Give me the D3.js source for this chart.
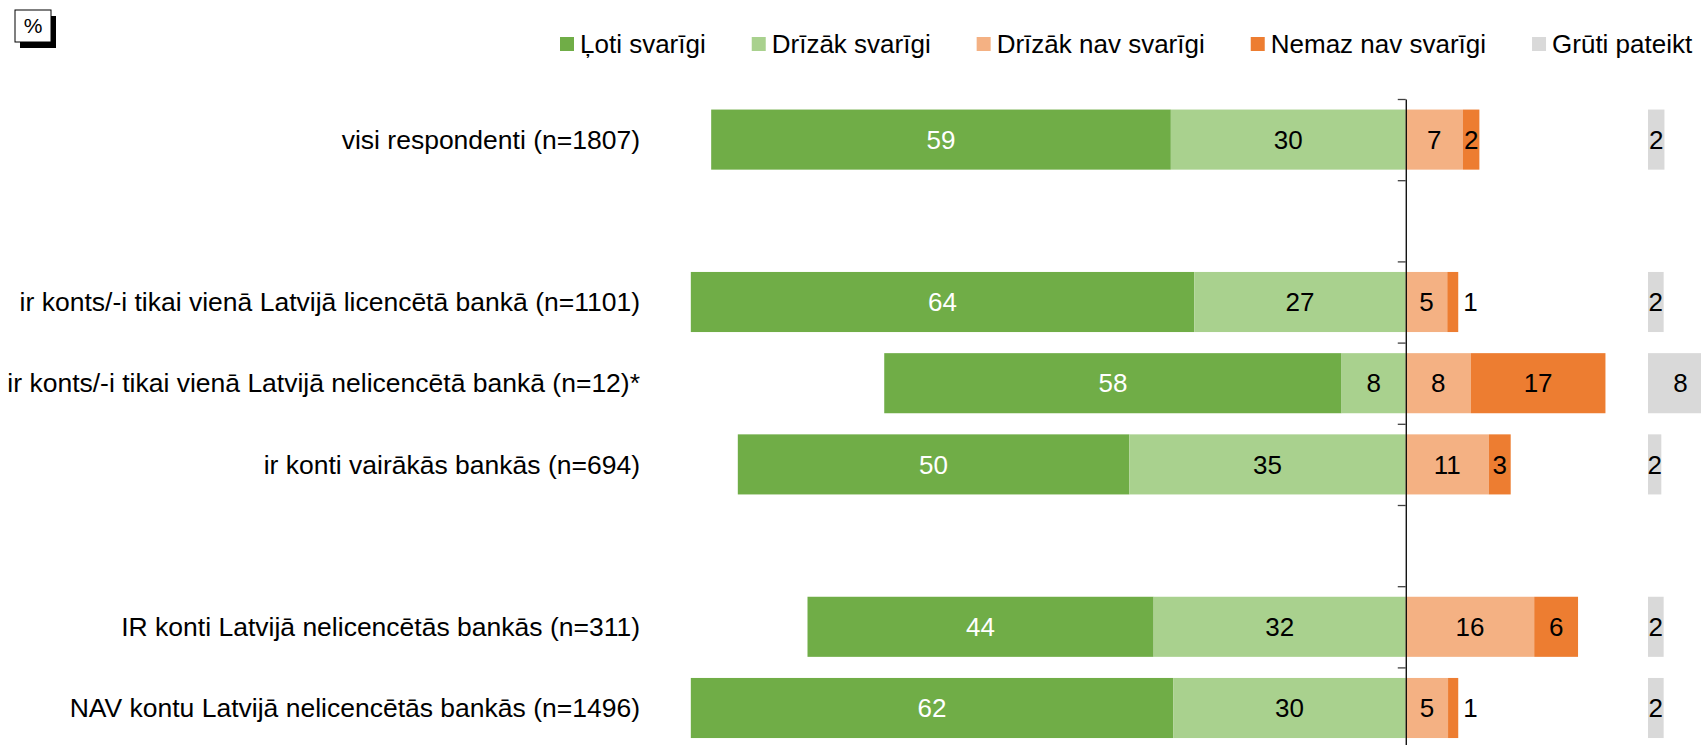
<!DOCTYPE html>
<html>
<head>
<meta charset="utf-8">
<script src="https://cdn.jsdelivr.net/npm/d3@7"></script>
<style>
  body { margin: 0; background: #fff; }
  svg text { font-family: "Liberation Sans", Arial, sans-serif; }
</style>
</head>
<body>
<div id="chart"></div>
<script>
// categories (blank entries are spacer rows)
const categories = [
  "visi respondenti (n=1807)",
  "",
  "ir konts/-i tikai vienā Latvijā licencētā bankā (n=1101)",
  "ir konts/-i tikai vienā Latvijā nelicencētā bankā (n=12)*",
  "ir konti vairākās bankās (n=694)",
  "",
  "IR konti Latvijā nelicencētās bankās (n=311)",
  "NAV kontu Latvijā nelicencētās bankās (n=1496)"
];

// series values, % (labels show rounded values)
const lotiSvarigi      = [58.7, null, 64.3, 58.4, 50.0, null, 44.2, 61.6];
const drizakSvarigi    = [30.0, null, 27.0,  8.2, 35.3, null, 32.2, 29.7];
const drizakNavSvarigi = [ 7.3, null,  5.3,  8.3, 10.6, null, 16.4,  5.4];
const nemazNavSvarigi  = [ 2.1, null,  1.4, 17.2,  2.8, null,  5.6,  1.3];
const grutiPateikt     = [ 2.1, null,  2.0,  8.3,  1.7, null,  2.0,  2.0];

const seriesNames = ["Ļoti svarīgi", "Drīzāk svarīgi", "Drīzāk nav svarīgi", "Nemaz nav svarīgi", "Grūti pateikt"];
const colors = ["#70AD47", "#A9D18E", "#F4B183", "#ED7D31", "#D9D9D9"];

const width = 1701, height = 745;
const fmt = d3.format(".0f");

const svg = d3.select("#chart")
  .append("svg")
    .attr("width", width)
    .attr("height", height);

const keys = categories.map((c, i) => "row" + i);

// y: one band per row, bars centred between the ticks
const y = d3.scaleBand()
  .domain(keys)
  .range([99, 748.6])
  .paddingInner(0.26)
  .paddingOuter(0.13);

// x: diverging around zero
const x = d3.scaleLinear().domain([-90, 40]).range([701, 1719]);
// separate scale for "Grūti pateikt" column
const xg = d3.scaleLinear().domain([0, 10]).range([1648, 1726.3]);

// build segments
const segs = [];
keys.forEach((k, i) => {
  if (lotiSvarigi[i] == null) return;
  const neg1 = drizakSvarigi[i], neg2 = lotiSvarigi[i];
  segs.push({k, s: 0, v: neg2, x0: x(-(neg1 + neg2)), x1: x(-neg1)});
  segs.push({k, s: 1, v: neg1, x0: x(-neg1), x1: x(0)});
  const p1 = drizakNavSvarigi[i], p2 = nemazNavSvarigi[i];
  segs.push({k, s: 2, v: p1, x0: x(0), x1: x(p1)});
  segs.push({k, s: 3, v: p2, x0: x(p1), x1: x(p1 + p2)});
  segs.push({k, s: 4, v: grutiPateikt[i], x0: xg(0), x1: xg(grutiPateikt[i])});
});

svg.append("g")
  .selectAll("rect")
  .data(segs)
  .join("rect")
    .attr("x", d => d.x0)
    .attr("y", d => y(d.k))
    .attr("width", d => d.x1 - d.x0)
    .attr("height", y.bandwidth())
    .attr("fill", d => colors[d.s]);

// value labels (tiny orange segments get their label outside)
const outside = d => d.s === 3 && d.v < 2;
svg.append("g")
  .selectAll("text")
  .data(segs)
  .join("text")
    .attr("x", d => outside(d) ? d.x1 + 5 : (d.x0 + d.x1) / 2)
    .attr("y", d => y(d.k) + y.bandwidth() / 2)
    .attr("dy", "0.35em")
    .attr("text-anchor", d => outside(d) ? "start" : "middle")
    .style("font-size", "26px")
    .style("fill", d => d.s === 0 ? "#fff" : "#000")
    .text(d => fmt(d.v));

// category labels
svg.append("g")
  .selectAll("text")
  .data(categories)
  .join("text")
    .attr("x", 640)
    .attr("y", (d, i) => y(keys[i]) + y.bandwidth() / 2)
    .attr("dy", "0.35em")
    .attr("text-anchor", "end")
    .style("font-size", "26.5px")
    .style("fill", "#000")
    .text(d => d);

// axis at zero with ticks on the row boundaries
const yEdges = d3.scaleLinear().domain([0, keys.length]).range([99, 748.6]);
const axis = svg.append("g")
  .attr("transform", `translate(${x(0)},0)`)
  .call(d3.axisLeft(yEdges).tickValues(d3.range(0, keys.length + 1)).tickSize(8).tickSizeOuter(0).tickFormat(""));
axis.select(".domain").attr("stroke", "#000").attr("stroke-width", 1.3);
axis.selectAll(".tick line").attr("stroke", "#404040").attr("stroke-width", 1.3);

// legend
const legend = svg.append("g");
let lx = 560;
seriesNames.forEach((name, i) => {
  legend.append("rect")
    .attr("x", lx).attr("y", 37)
    .attr("width", 14).attr("height", 14)
    .attr("fill", colors[i]);
  const t = legend.append("text")
    .attr("x", lx + 20).attr("y", 44)
    .attr("dy", "0.35em")
    .style("font-size", "26px")
    .text(name);
  lx += 20 + t.node().getComputedTextLength() + 46;
});

// "%" box with shadow
svg.append("rect").attr("x", 20).attr("y", 16).attr("width", 36).attr("height", 32).attr("fill", "#000");
svg.append("rect").attr("x", 15).attr("y", 10).attr("width", 36).attr("height", 32)
  .attr("fill", "#fff").attr("stroke", "#000").attr("stroke-width", 1);
svg.append("text").attr("x", 33).attr("y", 26).attr("dy", "0.35em")
  .attr("text-anchor", "middle").style("font-size", "21px").text("%");
</script>
</body>
</html>
